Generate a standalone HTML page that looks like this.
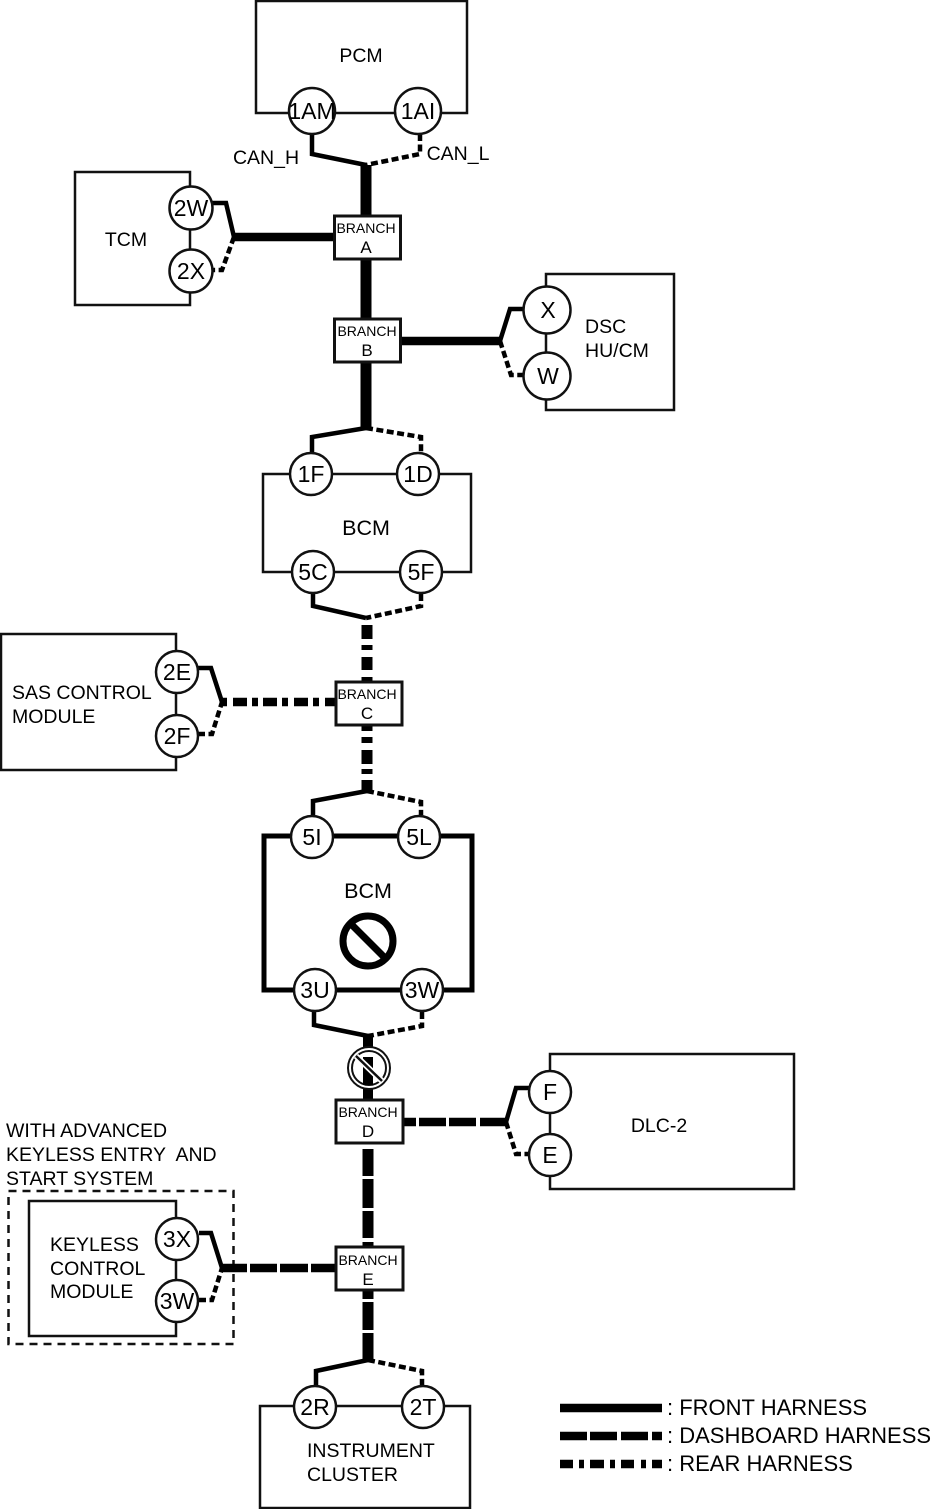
<!DOCTYPE html>
<html><head><meta charset="utf-8"><style>
html,body{margin:0;padding:0;background:#fff}
svg{display:block}
text{font-family:"Liberation Sans",Arial,sans-serif;fill:#000;stroke:none}
.l{font-size:21.5px;text-anchor:middle}.c{font-size:23px;text-anchor:middle}.b{font-size:14px;text-anchor:middle}.bl{font-size:17px;text-anchor:middle}.m{font-size:19.5px;text-anchor:middle}
.s{text-anchor:start}
.box{fill:none;stroke:#111;stroke-width:2.5}
.f{fill:none;stroke:#000;stroke-width:4.5}
.r{fill:none;stroke:#000;stroke-width:4.5;stroke-dasharray:7 3.5}
.cc{fill:#fff;stroke:#111;stroke-width:2.5}
.br{fill:#fff;stroke:#111;stroke-width:3}
</style></head><body>
<svg width="946" height="1509" viewBox="0 0 946 1509" xmlns="http://www.w3.org/2000/svg">
<!-- boxes -->
<rect class="box" x="256" y="1" width="211" height="112"/>
<rect class="box" x="75" y="172" width="115" height="133"/>
<rect class="box" x="546" y="274" width="128" height="136"/>
<rect class="box" x="263" y="474" width="208" height="98"/>
<rect class="box" x="1" y="634" width="175" height="136"/>
<rect x="264" y="836" width="208" height="154" fill="none" stroke="#000" stroke-width="5"/>
<rect class="box" x="550" y="1054" width="244" height="135"/>
<rect x="8.5" y="1191" width="225" height="153" fill="none" stroke="#111" stroke-width="2.5" stroke-dasharray="8 6"/>
<rect class="box" x="29" y="1201" width="147" height="135"/>
<rect class="box" x="260" y="1406" width="210" height="102"/>
<!-- PCM -->
<path class="f" d="M312 134V154L366 165"/><path class="r" d="M420 134V154L366 165"/>
<path d="M366 165V216" stroke="#000" stroke-width="11"/>
<path d="M366 259V319M366 362V430" stroke="#000" stroke-width="11"/>
<path d="M233 237H334" stroke="#000" stroke-width="8.5"/>
<path class="f" d="M212 203H226L234 237"/><path class="r" d="M234 237L222 270H212"/>
<path d="M401 341H500" stroke="#000" stroke-width="8.5"/>
<path class="f" d="M500 341L510 309H525"/><path class="r" d="M500 341L511 375H525"/>
<path class="f" d="M366 428L312 437V452"/><path class="r" d="M366 428L421 437V452"/>
<path class="f" d="M313 594V606L366 618"/><path class="r" d="M421 594V606L366 618"/>
<!-- rear trunk -->
<path d="M367 625V639M367 645V650M367 657V670M367 677V682M367 726V731M367 737V743M367 750V764M367 769V774M367 780V793" stroke="#000" stroke-width="11"/>
<path d="M222 702H227M233 702H247M252 702H258M263 702H277M282 702H288M294 702H308M313 702H319M325 702H336" stroke="#000" stroke-width="8.5"/>
<path class="f" d="M198 668H211L222 702"/><path class="r" d="M198 734H212L222 702"/>
<path class="f" d="M367 791L313 801V815"/><path class="r" d="M367 791L421 802V815"/>
<path class="f" d="M314 1012V1025L368 1036"/><path class="r" d="M422 1012V1026L368 1036"/>
<path d="M368 1036V1100" stroke="#000" stroke-width="10"/>
<!-- dashboard -->
<path d="M403 1122H416M419 1122H446M449 1122H476M480 1122H506" stroke="#000" stroke-width="8.5"/>
<path class="f" d="M506 1122L516 1088H529"/><path class="r" d="M506 1122L516 1154H529"/>
<path d="M368 1149V1176M368 1179V1208M368 1211V1238M368 1242V1247M368 1290V1299M368 1302V1330M368 1333V1362" stroke="#000" stroke-width="11"/>
<path d="M222 1268H247M250 1268H277M280 1268H308M311 1268H336" stroke="#000" stroke-width="8.5"/>
<path class="f" d="M199 1233H211L222 1268"/><path class="r" d="M199 1300H212L222 1268"/>
<path class="f" d="M368 1360L316 1371V1386"/><path class="r" d="M368 1360L422 1371V1386"/>
<!-- circles -->
<circle class="cc" cx="312" cy="111" r="23"/><text class="c" x="312" y="119">1AM</text>
<circle class="cc" cx="418" cy="111" r="23"/><text class="c" x="418" y="119">1AI</text>
<circle class="cc" cx="191" cy="208" r="21.5"/><text class="c" x="191" y="216">2W</text>
<circle class="cc" cx="191" cy="271" r="21.5"/><text class="c" x="191" y="279">2X</text>
<circle class="cc" cx="547" cy="310" r="23.5"/><text class="c" x="548" y="318">X</text>
<circle class="cc" cx="547" cy="376" r="23.5"/><text class="c" x="548" y="384">W</text>
<circle class="cc" cx="311" cy="474" r="21"/><text class="c" x="311" y="482">1F</text>
<circle class="cc" cx="418" cy="474" r="21"/><text class="c" x="418" y="482">1D</text>
<circle class="cc" cx="313" cy="572" r="21"/><text class="c" x="313" y="580">5C</text>
<circle class="cc" cx="421" cy="572" r="21"/><text class="c" x="421" y="580">5F</text>
<circle class="cc" cx="177" cy="672" r="21"/><text class="c" x="177" y="680">2E</text>
<circle class="cc" cx="177" cy="736" r="21"/><text class="c" x="177" y="744">2F</text>
<circle class="cc" cx="312" cy="837" r="21"/><text class="c" x="312" y="845">5I</text>
<circle class="cc" cx="419" cy="837" r="21"/><text class="c" x="419" y="845">5L</text>
<circle class="cc" cx="315" cy="990" r="21"/><text class="c" x="315" y="998">3U</text>
<circle class="cc" cx="422" cy="990" r="21"/><text class="c" x="422" y="998">3W</text>
<circle class="cc" cx="550" cy="1092" r="21"/><text class="c" x="550" y="1100">F</text>
<circle class="cc" cx="550" cy="1155" r="21"/><text class="c" x="550" y="1163">E</text>
<circle class="cc" cx="177" cy="1239" r="21"/><text class="c" x="177" y="1247">3X</text>
<circle class="cc" cx="177" cy="1301" r="21"/><text class="c" x="177" y="1309">3W</text>
<circle class="cc" cx="315" cy="1407" r="21"/><text class="c" x="315" y="1415">2R</text>
<circle class="cc" cx="423" cy="1407" r="21"/><text class="c" x="423" y="1415">2T</text>
<!-- branches -->
<rect class="br" x="334.5" y="216" width="66" height="43"/><text class="b" x="366" y="233">BRANCH</text><text class="bl" x="366" y="253">A</text>
<rect class="br" x="334.5" y="319" width="66" height="43"/><text class="b" x="367" y="336">BRANCH</text><text class="bl" x="367" y="356">B</text>
<rect class="br" x="336" y="682" width="66" height="43"/><text class="b" x="367" y="699">BRANCH</text><text class="bl" x="367" y="719">C</text>
<rect class="br" x="336" y="1100" width="67" height="43"/><text class="b" x="368" y="1117">BRANCH</text><text class="bl" x="368" y="1137">D</text>
<rect class="br" x="336" y="1247" width="67" height="43"/><text class="b" x="368" y="1265">BRANCH</text><text class="bl" x="368" y="1285">E</text>
<!-- prohibition -->
<circle cx="368" cy="941" r="25" fill="none" stroke="#000" stroke-width="7"/>
<path d="M351 924L385 958" stroke="#000" stroke-width="7"/>
<circle cx="369" cy="1068" r="21" fill="#fff" stroke="#111" stroke-width="2"/>
<circle cx="369" cy="1068" r="17" fill="#fff" stroke="#111" stroke-width="2"/>
<path d="M368 1057V1085" stroke="#000" stroke-width="10"/>
<path d="M356 1056L382 1081" stroke="#fff" stroke-width="6"/>
<path d="M356 1056L382 1081" stroke="#111" stroke-width="2.5"/>
<!-- labels -->
<text class="m" x="361" y="62">PCM</text>
<text class="m" x="126" y="246">TCM</text>
<text class="m" x="266" y="164">CAN_H</text>
<text class="m" x="458" y="160">CAN_L</text>
<text class="m s" x="585" y="333">DSC</text>
<text class="m s" x="585" y="357">HU/CM</text>
<text class="l" x="366" y="535">BCM</text>
<text class="m s" x="12" y="699">SAS CONTROL</text>
<text class="m s" x="12" y="723">MODULE</text>
<text class="l" x="368" y="898">BCM</text>
<text class="m" x="659" y="1132">DLC-2</text>
<text class="m s" x="6" y="1137">WITH ADVANCED</text>
<text class="m s" x="6" y="1161" style="white-space:pre">KEYLESS ENTRY  AND</text>
<text class="m s" x="6" y="1185">START SYSTEM</text>
<text class="m s" x="50" y="1251">KEYLESS</text>
<text class="m s" x="50" y="1275">CONTROL</text>
<text class="m s" x="50" y="1298">MODULE</text>
<text class="m s" x="307" y="1457">INSTRUMENT</text>
<text class="m s" x="307" y="1481">CLUSTER</text>
<!-- legend -->
<path d="M560 1408H662" stroke="#000" stroke-width="8.5"/>
<path d="M560 1436H587M590 1436H617M621 1436H648M652 1436H662" stroke="#000" stroke-width="8.5"/>
<path d="M560 1464H573M579 1464H584M590 1464H604M610 1464H615M621 1464H634M641 1464H646M652 1464H662" stroke="#000" stroke-width="8.5"/>
<text x="667" y="1415" font-size="22">: FRONT HARNESS</text>
<text x="667" y="1443" font-size="22">: DASHBOARD HARNESS</text>
<text x="667" y="1471" font-size="22">: REAR HARNESS</text>
</svg>
</body></html>
